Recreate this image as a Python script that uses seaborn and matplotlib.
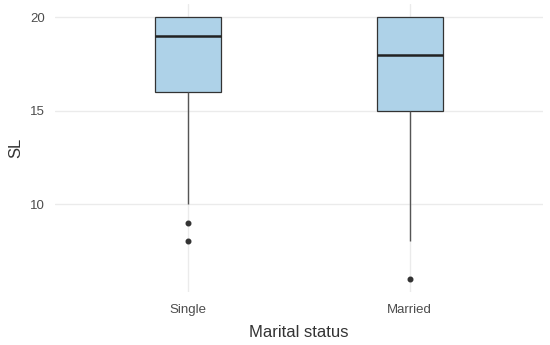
import pandas as pd
import numpy as np
import matplotlib
matplotlib.use("Agg")
import matplotlib.pyplot as plt
import seaborn as sns

# -----------------------------
# raw SL scores per group (chosen so the box stats match the figure)
categories = ["Single", "Married"]
single_sl = [8, 9, 10, 12, 14, 16, 17, 17, 18, 18, 19, 19, 19,
             20, 20, 20, 20, 20, 20, 20, 20]
married_sl = [6, 8, 10, 12, 13, 15, 16, 16, 17, 17, 18, 18, 19,
              19, 20, 20, 20, 20, 20, 20, 20]
y_ticks = [10, 15, 20]

df = pd.DataFrame({
    "Marital status": ["Single"] * len(single_sl) + ["Married"] * len(married_sl),
    "SL": single_sl + married_sl,
})

# -----------------------------
sns.set_theme(style="whitegrid")
plt.rcParams["font.family"] = ["Liberation Sans", "DejaVu Sans"]

fig, ax = plt.subplots(figsize=(5.5, 3.45), dpi=100)
fig.subplots_adjust(left=0.1, right=0.987, top=0.988, bottom=0.154)

sns.boxplot(
    data=df, x="Marital status", y="SL", order=categories, ax=ax,
    width=0.3, color="#AED2E8", saturation=1, linecolor="#333333",
    linewidth=0.9, showcaps=False,
    whiskerprops=dict(color="#555555", linewidth=1.0),
    medianprops=dict(color="#222222", linewidth=1.8),
    flierprops=dict(marker="o", markersize=3.3, markerfacecolor="#333333",
                    markeredgecolor="#333333"),
)

ax.set_xlim(-0.6, 1.6)
ax.set_ylim(5.3, 20.7)
ax.set_yticks(y_ticks)
ax.grid(True, color="#EBEBEB", linewidth=1.0)
ax.set_axisbelow(True)
for s in ax.spines.values():
    s.set_visible(False)

ax.tick_params(axis="both", labelsize=9.5, colors="#4D4D4D", length=0)
ax.tick_params(axis="x", pad=8.5)
ax.tick_params(axis="y", pad=7)
ax.set_xlabel("Marital status", fontsize=12, color="#333333", labelpad=7)
ax.set_ylabel("SL", fontsize=12, color="#333333", labelpad=5)

plt.savefig("out.png", dpi=100)
